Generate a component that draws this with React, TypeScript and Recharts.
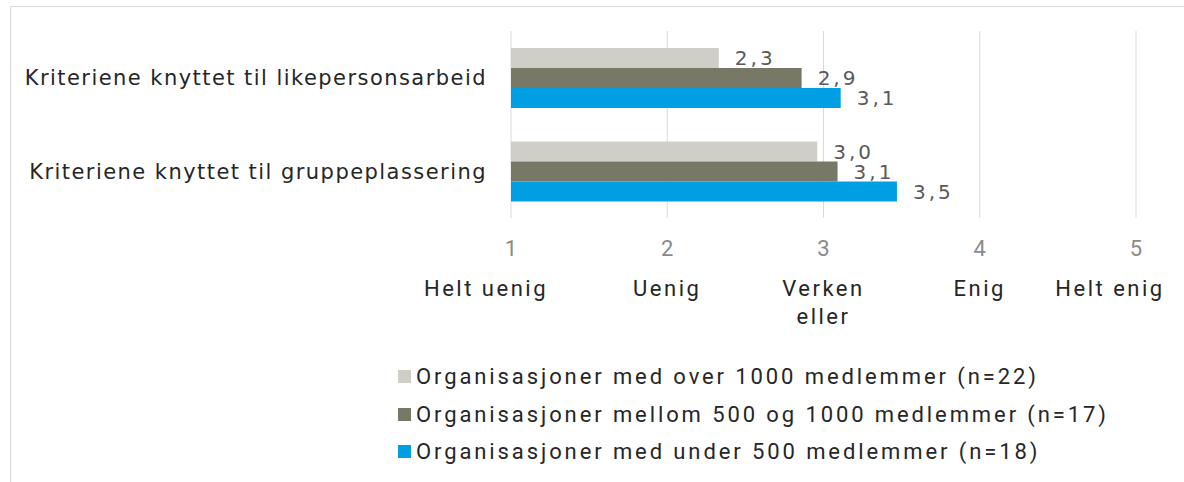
import React from 'react';
import { BarChart, Bar, XAxis, YAxis, CartesianGrid, Legend, LabelList } from 'recharts';

// values (labels are rounded to one decimal)
const categories = [
  'Kriteriene knyttet til likepersonsarbeid',
  'Kriteriene knyttet til gruppeplassering',
];
const over1000 = [2.33, 2.96];
const between500and1000 = [2.86, 3.09];
const under500 = [3.11, 3.47];

const seriesNames = [
  'Organisasjoner med over 1000 medlemmer (n=22)',
  'Organisasjoner mellom 500 og 1000 medlemmer (n=17)',
  'Organisasjoner med under 500 medlemmer (n=18)',
];
const seriesColors = ['#cfcfc7', '#787867', '#009fe3'];

const xTicks = [1, 2, 3, 4, 5];
const scaleLabels = ['Helt uenig', 'Uenig', 'Verken\neller', 'Enig', 'Helt enig'];

const data = categories.map((name, i) => ({
  name,
  over1000: over1000[i],
  between: between500and1000[i],
  under500: under500[i],
}));

const keys = ['over1000', 'between', 'under500'];

const fmt = (v: any) => Number(v).toFixed(1).replace('.', ',');

const ScaleTick = (props: any) => {
  const { x, y, payload } = props;
  const idx = xTicks.indexOf(payload.value);
  const lines = (scaleLabels[idx] || '').split('\n');
  // the outer labels sit a bit inward in the original
  const shift = idx === 0 ? -25 : idx === xTicks.length - 1 ? -26 : 0;
  return (
    <g>
      <text x={x} y={y + 30} textAnchor="middle" dominantBaseline="central"
        fill="#8a8a8a" fontSize={22} fontFamily="Roboto">
        {payload.value}
      </text>
      {lines.map((l, i) => (
        <text key={i} x={x + shift} y={y + 70 + i * 28} textAnchor="middle" dominantBaseline="central"
          fill="#262626" fontSize={22} fontFamily="Roboto" letterSpacing={2.5}>
          {l}
        </text>
      ))}
    </g>
  );
};

const LegendBox = (props: any) => {
  const items = [...(props.payload || [])].sort(
    (a: any, b: any) => seriesNames.indexOf(a.value) - seriesNames.indexOf(b.value)
  );
  return (
    <div style={{ fontFamily: 'Roboto', fontSize: 22, color: '#262626', letterSpacing: 2.9 }}>
      {items.map((p: any, i: number) => (
        <div key={i} style={{ display: 'flex', alignItems: 'center', height: 37.5, whiteSpace: 'nowrap' }}>
          <span style={{ display: 'inline-block', width: 13, height: 13, background: p.color, marginRight: 5 }} />
          <span>{p.value}</span>
        </div>
      ))}
    </div>
  );
};

export default function App() {
  return (
    <div style={{ position: 'absolute', left: 0, top: 0, width: 1184, height: 482, overflow: 'hidden', background: '#fff' }}>
      <div style={{
        position: 'absolute', left: 10, top: 6, width: 1300, height: 600,
        borderTop: '1px solid #d9d9d9', borderLeft: '1px solid #d9d9d9',
      }} />
      <div style={{ position: 'absolute', left: 0, top: 0 }}>
        <BarChart
          width={1184}
          height={482}
          data={data}
          layout="vertical"
          margin={{ top: 31, right: 48, bottom: 144, left: 0 }}
          barGap={0}
          barSize={20}
        >
          <CartesianGrid horizontal={false} vertical stroke="#d9d9d9" />
          <XAxis
            type="number"
            domain={[1, 5]}
            ticks={xTicks}
            interval={0}
            axisLine={false}
            tickLine={false}
            tickSize={0}
            tickMargin={0}
            height={120}
            tick={<ScaleTick />}
          />
          <YAxis
            type="category"
            dataKey="name"
            width={511}
            axisLine={false}
            tickLine={false}
            tickSize={0}
            tickMargin={24}
            tick={{ fill: '#262626', fontSize: 21, fontFamily: 'DejaVu Sans', letterSpacing: 1.45 }}
          />
          <Legend
            layout="vertical"
            align="center"
            verticalAlign="middle"
            wrapperStyle={{ left: 398, top: 358, width: 780 }}
            content={<LegendBox />}
          />
          {keys.map((k, i) => (
            <Bar key={k} dataKey={k} name={seriesNames[i]} fill={seriesColors[i]} isAnimationActive={false}>
              <LabelList
                dataKey={k}
                position="right"
                offset={16}
                formatter={fmt}
                style={{ fill: '#595959', fontSize: 20, fontFamily: 'DejaVu Sans', letterSpacing: 3 }}
              />
            </Bar>
          ))}
        </BarChart>
      </div>
    </div>
  );
}
